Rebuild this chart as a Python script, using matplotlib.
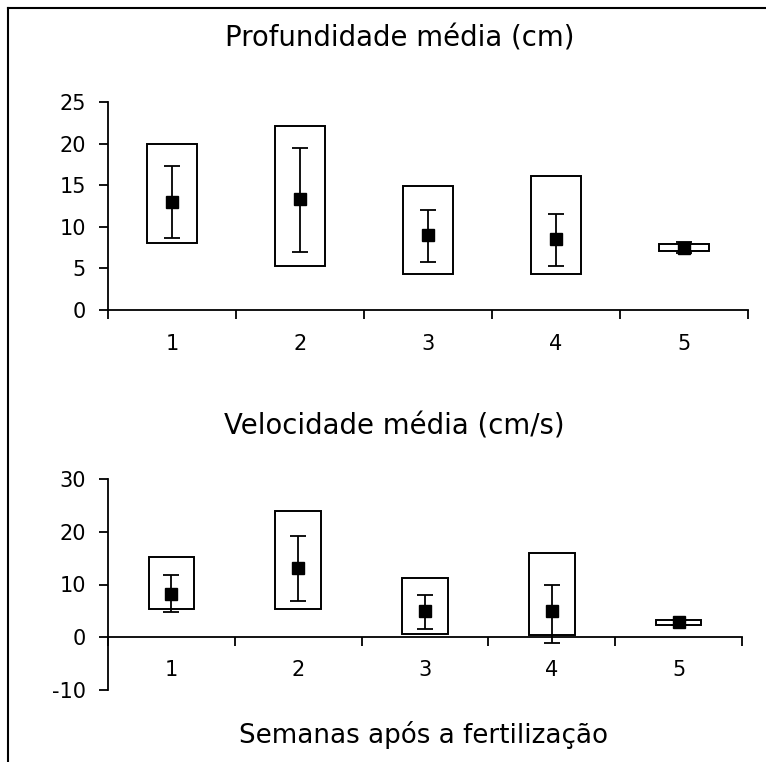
import numpy as np
import matplotlib.pyplot as plt
from matplotlib.lines import Line2D

plt.rcParams['font.family'] = ['DejaVu Sans']
plt.rcParams['axes.unicode_minus'] = False

semanas = [1, 2, 3, 4, 5]
semana_labels = ['1', '2', '3', '4', '5']

# profundidade (cm)
prof_media = [13.0, 13.3, 9.0, 8.5, 7.5]
prof_inf = [8.6, 7.0, 5.8, 5.3, 6.8]
prof_sup = [17.3, 19.5, 12.0, 11.5, 8.2]
prof_min = [8.1, 5.3, 4.3, 4.3, 7.1]
prof_max = [20.0, 22.1, 14.9, 16.1, 7.9]

# velocidade (cm/s)
vel_media = [8.2, 13.1, 4.9, 4.9, 2.8]
vel_inf = [4.7, 6.8, 1.5, -1.0, 2.4]
vel_sup = [11.8, 19.2, 8.0, 9.9, 3.2]
vel_min = [5.3, 5.3, 0.6, 0.5, 2.3]
vel_max = [15.2, 23.9, 11.2, 15.9, 3.2]

W, H = 766, 762
fig = plt.figure(figsize=(W / 100, H / 100), dpi=100)

ax1 = fig.add_axes([108 / W, 1 - 310 / H, 640 / W, 208 / H])
ax2 = fig.add_axes([108 / W, 1 - 690 / H, 634 / W, 211 / H])


def painel(ax, media, inf, sup, vmin, vmax, largura, yticks, pad_x):
    media = np.array(media)
    ax.bar(semanas, np.array(vmax) - np.array(vmin), bottom=vmin, width=largura,
           fill=False, edgecolor='black', linewidth=1.4, zorder=2)
    yerr = [media - np.array(inf), np.array(sup) - media]
    ax.errorbar(semanas, media, yerr=yerr, fmt='s', color='black', ecolor='black',
                markersize=8, elinewidth=1.3, capsize=5.5, capthick=1.3, zorder=3)
    ax.set_xlim(0.5, 5.5)
    ax.set_ylim(yticks[0], yticks[-1])
    ax.set_yticks(yticks)
    ax.set_xticks(np.arange(0.5, 6.0, 1.0))
    ax.set_xticklabels([])
    ax.set_xticks(semanas, minor=True)
    ax.set_xticklabels(semana_labels, minor=True)
    ax.tick_params(axis='x', which='major', direction='out', length=6.5, width=1.3)
    ax.tick_params(axis='x', which='minor', length=0, pad=pad_x, labelsize=15)
    ax.tick_params(axis='y', direction='out', length=6.5, width=1.3, pad=9.5, labelsize=15)
    for s in ['top', 'right']:
        ax.spines[s].set_visible(False)
    ax.spines['left'].set_linewidth(1.3)
    ax.spines['bottom'].set_linewidth(1.3)
    ax.spines['bottom'].set_position(('data', 0))


painel(ax1, prof_media, prof_inf, prof_sup, prof_min, prof_max, 0.39,
       [0, 5, 10, 15, 20, 25], 17)
painel(ax2, vel_media, vel_inf, vel_sup, vel_min, vel_max, 0.36,
       [-10, 0, 10, 20, 30], 16.5)

fig.text(400 / W, 1 - 47 / H, 'Profundidade média (cm)', ha='center', va='baseline', fontsize=19.8)
fig.text(394 / W, 1 - 435 / H, 'Velocidade média (cm/s)', ha='center', va='baseline', fontsize=19.8)
fig.text(423 / W, 1 - 743 / H, 'Semanas após a fertilização', ha='center', va='baseline', fontsize=18.8)

# moldura (apenas topo e lado esquerdo visiveis)
fig.add_artist(Line2D([8 / W, 8 / W], [0, 1 - 8 / H], color='black', linewidth=1.5))
fig.add_artist(Line2D([8 / W, 1], [1 - 8 / H, 1 - 8 / H], color='black', linewidth=1.5))

fig.savefig('out.png', dpi=100)
